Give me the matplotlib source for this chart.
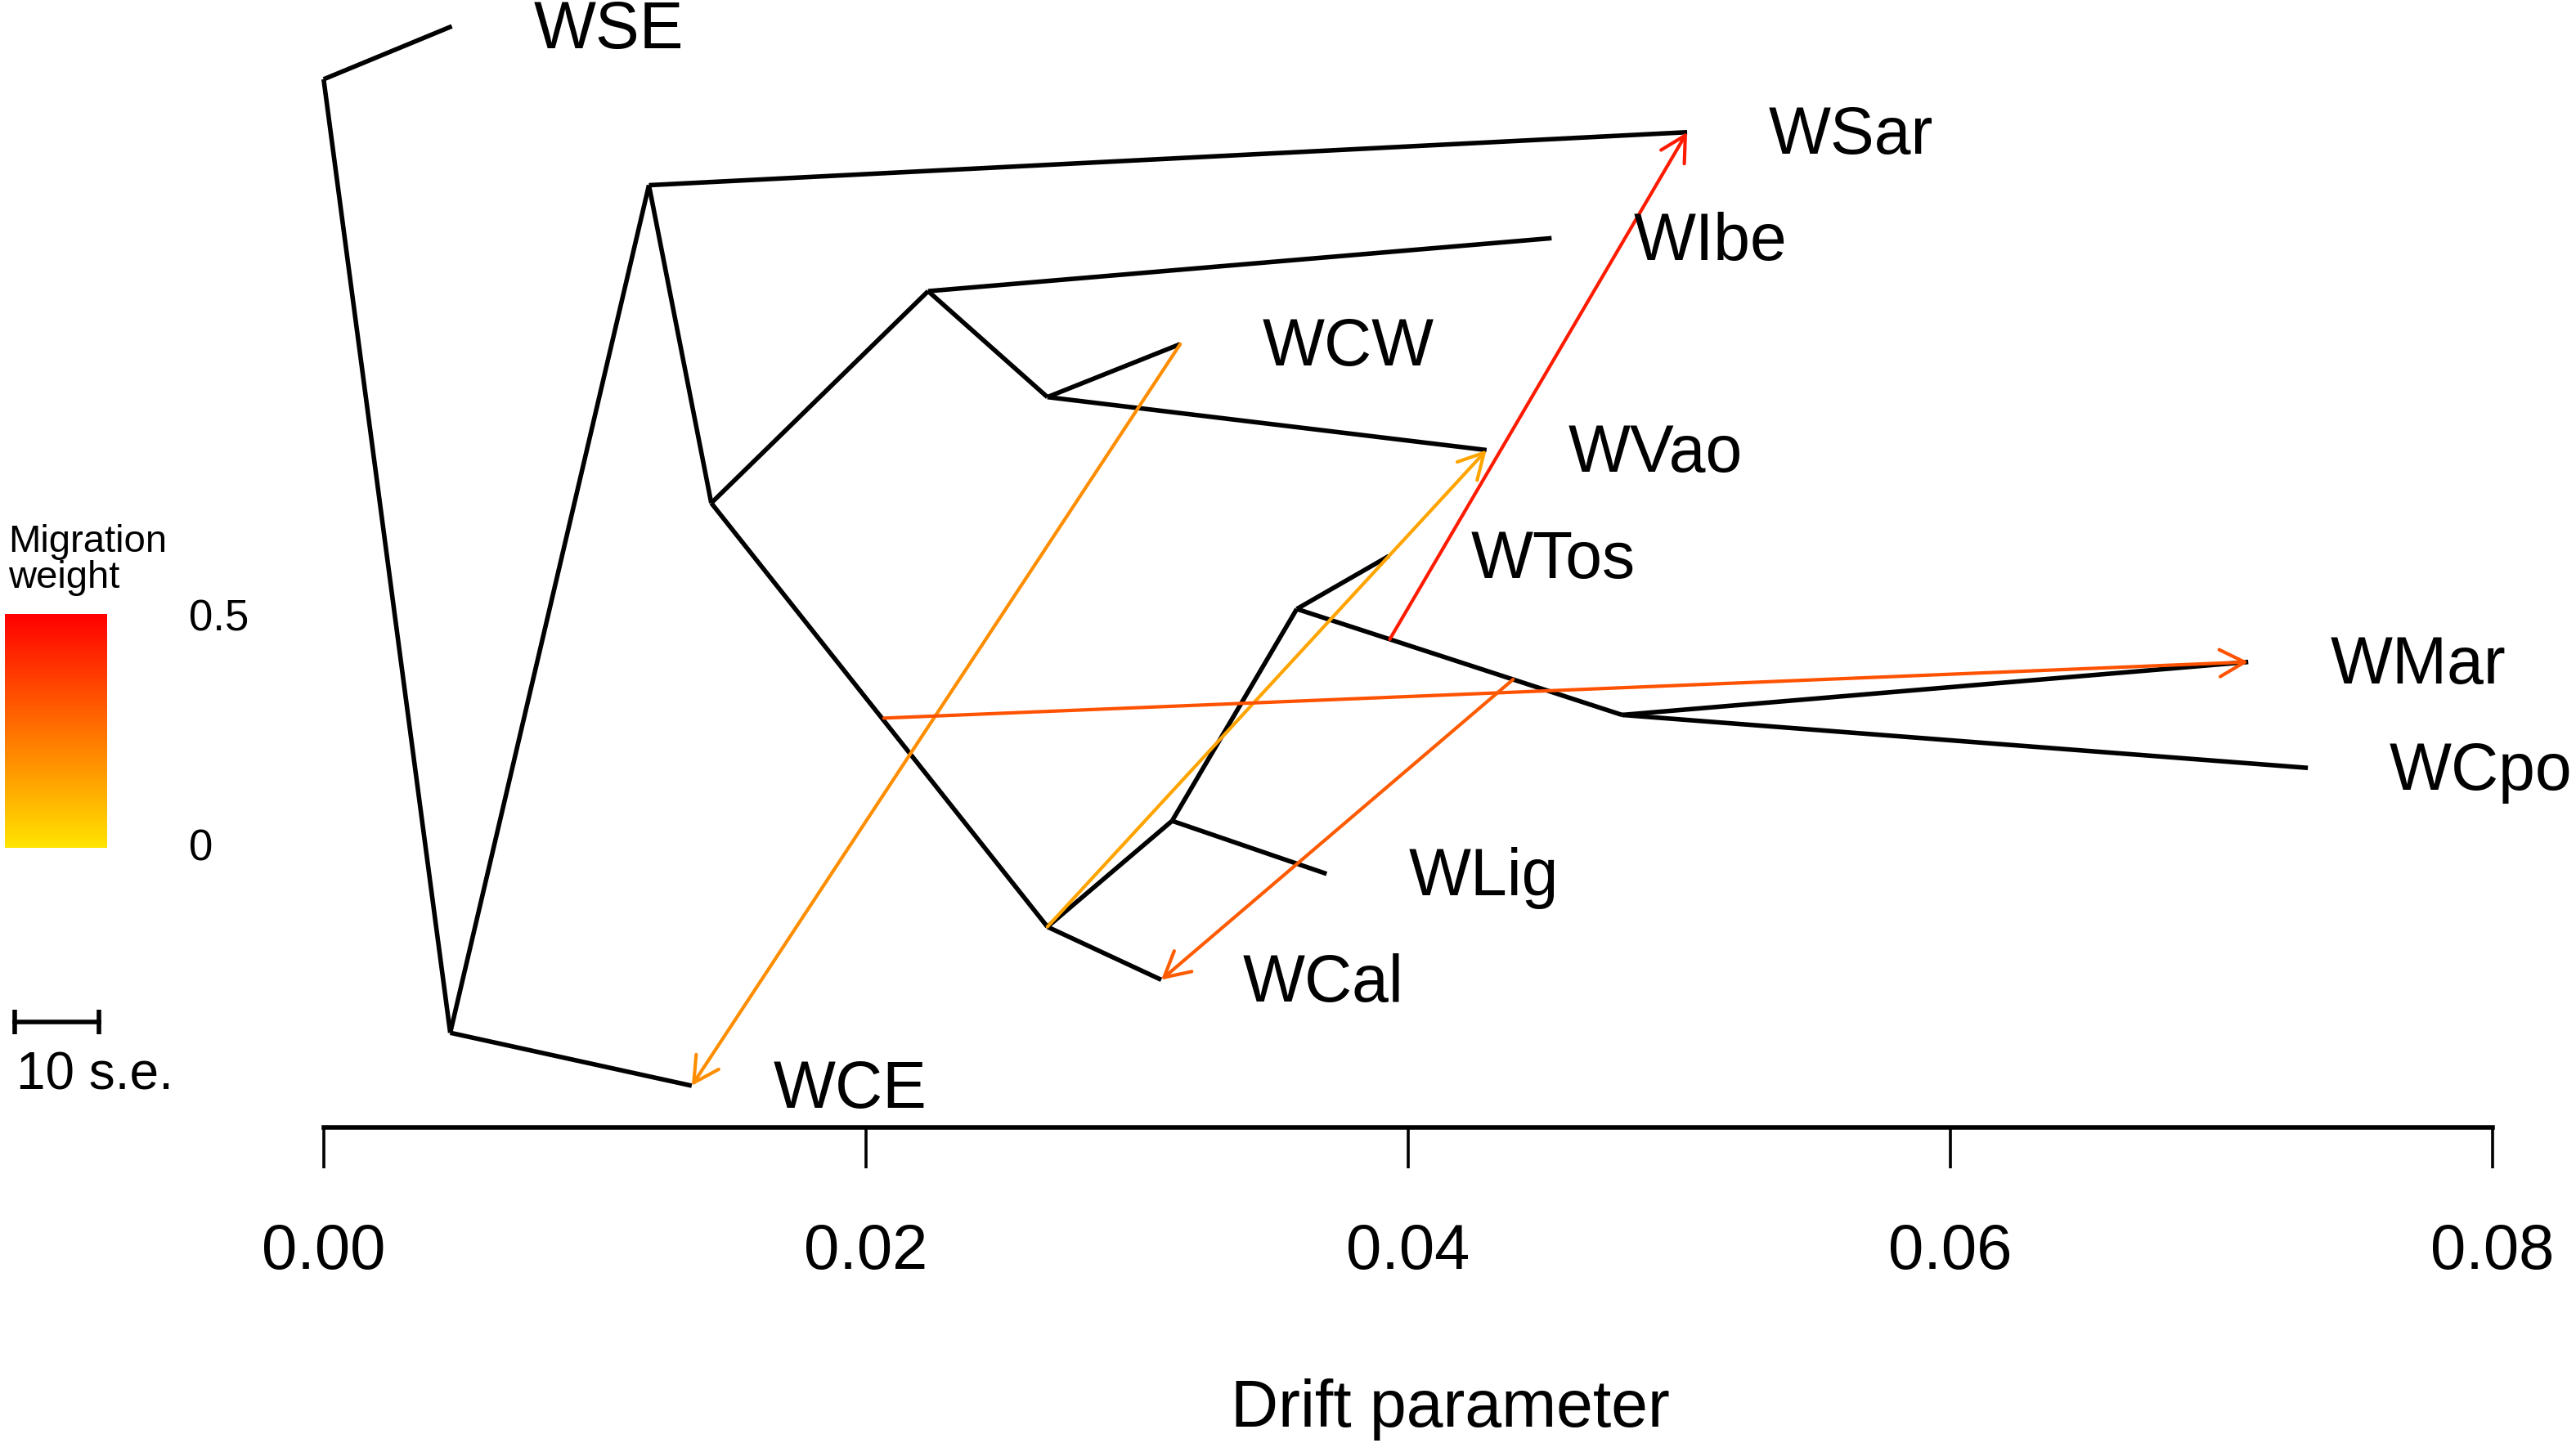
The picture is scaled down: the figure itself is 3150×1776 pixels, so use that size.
import numpy as np
import matplotlib
matplotlib.use("Agg")
import matplotlib.pyplot as plt
from matplotlib.colors import LinearSegmentedColormap, hsv_to_rgb
from matplotlib.patches import FancyArrowPatch

plt.rcParams['font.family'] = ['Liberation Sans', 'DejaVu Sans']

# ---- tree data (x = drift parameter, y = vertical tip-order position) ----
node_names = ["root", "WSE", "B", "WCE", "C", "WSar", "D", "E", "WIbe", "G",
              "WCW", "WVao", "F", "WCal", "H", "WLig", "I", "WTos", "J", "WMar", "WCpo"]
node_x = [0.0, 0.00473, 0.00467, 0.01358, 0.0120, 0.0503, 0.0143, 0.0223, 0.0453, 0.0267,
          0.0316, 0.0429, 0.0267, 0.0309, 0.0313, 0.0370, 0.0359, 0.0393, 0.0479, 0.0710, 0.0732]
node_y = [0.5, 0.0, 9.5, 10.0, 1.5, 1.0, 4.5, 2.5, 2.0, 3.5,
          3.0, 4.0, 8.5, 9.0, 7.5, 8.0, 5.5, 5.0, 6.5, 6.0, 7.0]
edge_parent = ["root", "root", "B", "B", "C", "C", "D", "D", "E", "E", "G", "G",
               "F", "F", "H", "H", "I", "I", "J", "J"]
edge_child = ["WSE", "B", "WCE", "C", "WSar", "D", "E", "F", "WIbe", "G", "WCW", "WVao",
              "WCal", "H", "WLig", "I", "WTos", "J", "WMar", "WCpo"]
tips = ["WSE", "WSar", "WIbe", "WCW", "WVao", "WTos", "WMar", "WCpo", "WLig", "WCal", "WCE"]

# ---- migration edges ----
mig_from_x = [0.0316, 0.0267, 0.03933, 0.02067, 0.04388]
mig_from_y = [3.0, 8.5, 5.786, 6.53, 6.165]
mig_to = ["WCE", "WVao", "WSar", "WMar", "WCal"]
mig_weight = [0.19, 0.14, 0.44, 0.32, 0.30]

xticks = [0.00, 0.02, 0.04, 0.06, 0.08]
xtick_labels = ["0.00", "0.02", "0.04", "0.06", "0.08"]

# colour scale: yellow (0) -> red (0.5), linear in hue
hues = np.linspace(0.149, 0.0, 256)
cols = hsv_to_rgb(np.column_stack([hues, np.ones(256), np.ones(256)]))
cmap = LinearSegmentedColormap.from_list("mig", cols)
wmax = 0.5

pos = {n: (x, y) for n, x, y in zip(node_names, node_x, node_y)}

fig = plt.figure(figsize=(15.75, 8.88), dpi=200)
ax = fig.add_axes([0, 0, 1, 1])
ax.set_xlim(-0.011939, 0.083091)
ax.set_ylim(13.457, -0.248)

# tree edges
for p, c in zip(edge_parent, edge_child):
    (x0, y0), (x1, y1) = pos[p], pos[c]
    ax.plot([x0, x1], [y0, y1], color="black", lw=2.0, solid_capstyle="butt",
            solid_joinstyle="miter", zorder=2)

# migration arrows
for fx, fy, t, w in zip(mig_from_x, mig_from_y, mig_to, mig_weight):
    tx, ty = pos[t]
    arr = FancyArrowPatch((fx, fy), (tx, ty),
                          arrowstyle="->,head_length=0.5,head_width=0.27",
                          mutation_scale=22, color=cmap(w / wmax), lw=1.5,
                          shrinkA=0, shrinkB=0, zorder=3)
    ax.add_patch(arr)

# tip labels
for t in tips:
    x, y = pos[t]
    ax.annotate(t, (x, y), xytext=(36, -2), textcoords="offset points",
                ha="left", va="center", fontsize=29, color="black")

# scale bar (10 s.e.)
ax.plot([-0.011394, -0.0083], [9.40, 9.40], color="black", lw=2.0,
        marker="|", markersize=11, markeredgewidth=2.0)
fig.text(10 / 1568, 1 - 655 / 884, "10 s.e.", fontsize=23, ha="left", va="center")

# x axis
for s in ["left", "right", "top"]:
    ax.spines[s].set_visible(False)
ax.spines["bottom"].set_position(("data", 10.39))
ax.spines["bottom"].set_bounds(0, 0.08)
ax.spines["bottom"].set_linewidth(2.0)
ax.set_xticks(xticks)
ax.set_xticklabels(xtick_labels)
ax.tick_params(axis="x", direction="out", length=18, width=1.3, pad=24, labelsize=28)
ax.set_yticks([])
fig.text(883 / 1568, 1 - 858 / 884, "Drift parameter", fontsize=29, ha="center", va="center")

# legend colour bar
cax = fig.add_axes([3 / 1568, 1 - 516 / 884, 62 / 1568, 142 / 884])
grad = np.linspace(wmax, 0, 256).reshape(-1, 1)
cax.imshow(grad, aspect="auto", cmap=cmap, vmin=0, vmax=wmax)
cax.axis("off")
fig.text(5 / 1568, 1 - 330 / 884, "Migration", fontsize=17, ha="left", va="center")
fig.text(5 / 1568, 1 - 352 / 884, "weight", fontsize=17, ha="left", va="center")
fig.text(115 / 1568, 1 - 377 / 884, "0.5", fontsize=19, ha="left", va="center")
fig.text(115 / 1568, 1 - 517 / 884, "0", fontsize=19, ha="left", va="center")

fig.savefig("out.png", dpi=200, facecolor="white")
